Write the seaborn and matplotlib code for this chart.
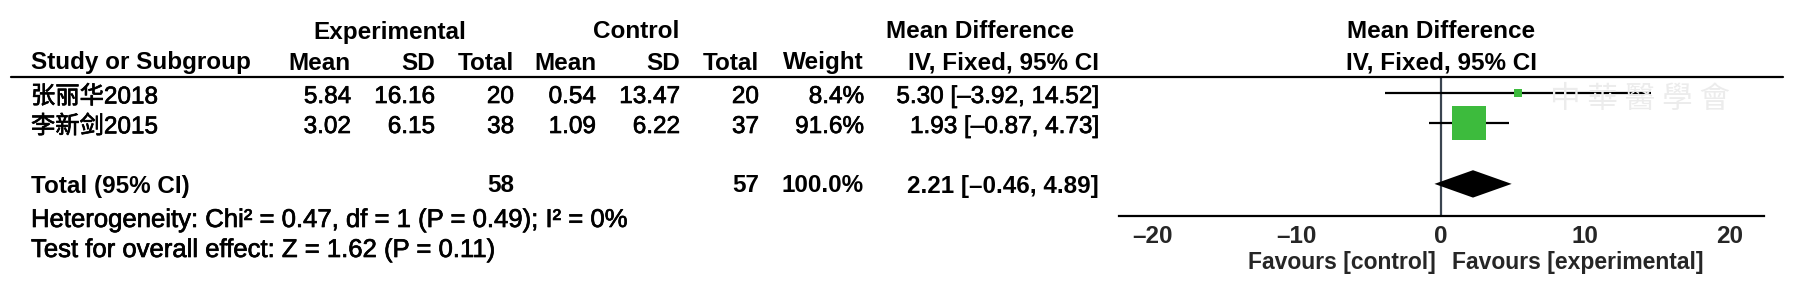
import numpy as np
import pandas as pd
import matplotlib
matplotlib.use("Agg")
import matplotlib.pyplot as plt
import matplotlib.transforms as mtransforms
import matplotlib.patheffects as pe
from matplotlib.lines import Line2D
import seaborn as sns

# ---------------- data ----------------
studies = ["张丽华2018", "李新剑2015"]
exp_mean = [5.84, 3.02]
exp_sd = [16.16, 6.15]
exp_total = [20, 38]
ctrl_mean = [0.54, 1.09]
ctrl_sd = [13.47, 6.22]
ctrl_total = [20, 37]
weights = [8.4, 91.6]
md = [5.30, 1.93]
ci_low = [-3.92, -0.87]
ci_high = [14.52, 4.73]

total_exp = 58
total_ctrl = 57
total_weight = 100.0
pooled_md = 2.21
pooled_low = -0.46
pooled_high = 4.89

chi2 = 0.47
het_df = 1
het_p = 0.49
i2 = 0
z_val = 1.62
z_p = 0.11

x_ticks = [-20, -10, 0, 10, 20]

# ---------------- style ----------------
sns.set_style("white")
BASE = ["Liberation Sans", "Noto Sans CJK SC", "DejaVu Sans"]
plt.rcParams["font.family"] = BASE

W, H = 1795, 291
fig = plt.figure(figsize=(W / 100, H / 100), dpi=100)
fig.patch.set_facecolor("white")

FS_B = 17.5
FS_N = 17.5
FS_S = 18.5
HEAVY = [pe.withStroke(linewidth=0.5, foreground="black")]


def fx(px):
    return px / W


def fy(py):
    return 1 - py / H


def put(px, py, s, ha="left", bold=False, size=None):
    t = fig.text(fx(px), fy(py), s, ha=ha, va="center",
                 fontsize=size or (FS_B if bold else FS_N),
                 fontweight="bold" if bold else "normal", color="black",
                 family=BASE)
    if not bold:
        t.set_path_effects(HEAVY)


def fmt(v, nd=2):
    return f"{v:.{nd}f}".replace("-", "–")


# column anchors (pixels)
c_study = 31
c_em, c_esd, c_et = 351, 435, 514
c_cm, c_csd, c_ct = 596, 680, 759
c_w, c_ci = 864, 1099
y_h1, y_h2 = 32, 63
row_y = [97, 127]
y_tot, y_het, y_test = 186, 220, 250

# headers
put(390, y_h1, "Experimental", ha="center", bold=True)
put(636, y_h1, "Control", ha="center", bold=True)
put(980, y_h1, "Mean Difference", ha="center", bold=True)
put(1441, y_h1, "Mean Difference", ha="center", bold=True)
put(c_study, y_h2, "Study or Subgroup", bold=True)
put(c_em, y_h2, "Mean", ha="right", bold=True)
put(c_esd, y_h2, "SD", ha="right", bold=True)
put(c_et, y_h2, "Total", ha="right", bold=True)
put(c_cm, y_h2, "Mean", ha="right", bold=True)
put(c_csd, y_h2, "SD", ha="right", bold=True)
put(c_ct, y_h2, "Total", ha="right", bold=True)
put(c_w, y_h2, "Weight", ha="right", bold=True)
put(c_ci, y_h2, "IV, Fixed, 95% CI", ha="right", bold=True)
put(1441, y_h2, "IV, Fixed, 95% CI", ha="center", bold=True)

fig.add_artist(Line2D([fx(11), fx(1783)], [fy(77), fy(77)],
                      transform=fig.transFigure, color="black", lw=1.6))

# study rows
for i, y in enumerate(row_y):
    put(c_study, y, studies[i])
    put(c_em, y, fmt(exp_mean[i]), ha="right")
    put(c_esd, y, fmt(exp_sd[i]), ha="right")
    put(c_et, y, str(exp_total[i]), ha="right")
    put(c_cm, y, fmt(ctrl_mean[i]), ha="right")
    put(c_csd, y, fmt(ctrl_sd[i]), ha="right")
    put(c_ct, y, str(ctrl_total[i]), ha="right")
    put(c_w, y, f"{weights[i]:.1f}%", ha="right")
    put(c_ci, y, f"{fmt(md[i])} [{fmt(ci_low[i])}, {fmt(ci_high[i])}]", ha="right")

# total row
put(c_study, y_tot, "Total (95% CI)", bold=True)
put(c_et, y_tot, str(total_exp), ha="right", bold=True)
put(c_ct, y_tot, str(total_ctrl), ha="right", bold=True)
put(c_w, y_tot, f"{total_weight:.1f}%", ha="right", bold=True)
put(c_ci, y_tot, f"{fmt(pooled_md)} [{fmt(pooled_low)}, {fmt(pooled_high)}]",
    ha="right", bold=True)

put(c_study, y_het,
    f"Heterogeneity: Chi² = {chi2:.2f}, df = {het_df} (P = {het_p:.2f}); I² = {i2}%",
    size=FS_S)
put(c_study, y_test, f"Test for overall effect: Z = {z_val:.2f} (P = {z_p:.2f})",
    size=FS_S)

# ---------------- forest plot ----------------
ax_l, ax_r = 1118.6, 1763.6
ax_top, ax_bot = 77, 216
ax = fig.add_axes([fx(ax_l), fy(ax_bot), (ax_r - ax_l) / W, (ax_bot - ax_top) / H])
ax.set_facecolor("none")

row_pos = [0, 1]
tot_pos = 3
px_per_row = 30.3
y0_px = 93

# watermark (faint)
fig.text(fx(1640), fy(100), "中 華 醫 學 會", family=["Noto Sans CJK TC"],
         fontsize=22, color="#ececec", ha="center", va="center",
         style="italic", zorder=0)

ax.axvline(0, color="#3a4450", lw=1.6, zorder=1)
ax.hlines(row_pos, ci_low, ci_high, color="black", lw=1.6, zorder=2)

df = pd.DataFrame({"md": md, "row": row_pos, "weight": weights})
sns.scatterplot(data=df, x="md", y="row", size="weight", sizes=(33, 590),
                marker="s", color="#3dbb3d", linewidth=0, legend=False,
                ax=ax, zorder=3)

h = 13.7 / px_per_row
ax.fill([pooled_low, pooled_md, pooled_high, pooled_md],
        [tot_pos, tot_pos - h, tot_pos, tot_pos + h], color="black", lw=0, zorder=3)

half = 0.5 * (ax_r - ax_l) / 14.43
ax.set_xlim(-half, half)
ax.set_ylim((ax_bot - y0_px) / px_per_row, (ax_top - y0_px) / px_per_row)
ax.set_yticks([])
ax.set_xlabel("")
ax.set_ylabel("")
for s in ["top", "left", "right"]:
    ax.spines[s].set_visible(False)
ax.spines["bottom"].set_color("black")
ax.spines["bottom"].set_linewidth(1.6)
ax.set_xticks(x_ticks)
ax.set_xticklabels([str(t).replace("-", "–") for t in x_ticks],
                   fontweight="bold", fontsize=FS_B, family=BASE)
ax.tick_params(axis="x", direction="inout", length=11, width=1.5,
               color="#3a4450", pad=1)

trans = mtransforms.blended_transform_factory(ax.transData, fig.transFigure)
ax.text(-0.38, fy(263), "Favours [control]", transform=trans, ha="right",
        va="center", fontsize=16.5, fontweight="bold", family=BASE)
ax.text(0.76, fy(263), "Favours [experimental]", transform=trans, ha="left",
        va="center", fontsize=16.5, fontweight="bold", family=BASE)

fig.savefig("out.png", dpi=100, facecolor="white")
